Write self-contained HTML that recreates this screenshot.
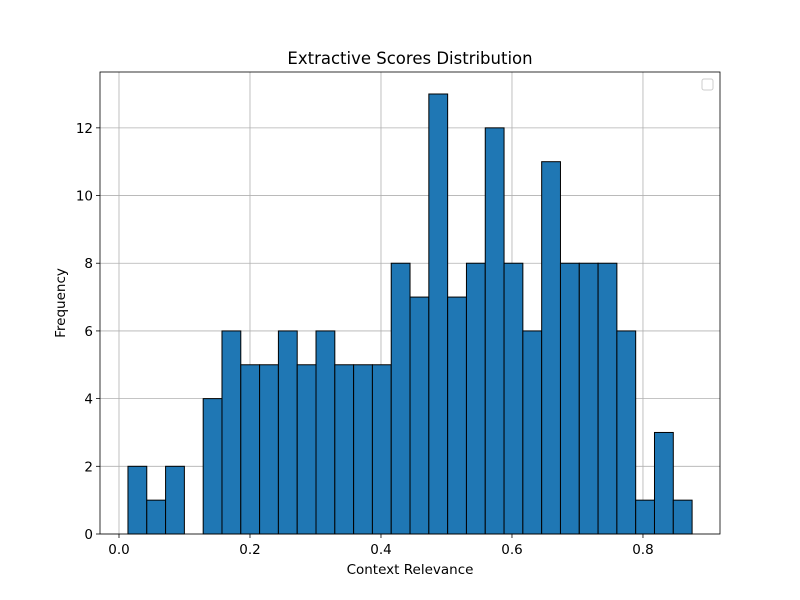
<!DOCTYPE html>
<html><head><meta charset="utf-8"><style>body{margin:0;background:#fff}svg{display:block;font-family:"DejaVu Sans","Liberation Sans",sans-serif}</style></head>
<body>
<svg id="chart" width="800" height="600" xmlns="http://www.w3.org/2000/svg"></svg>
<script>
const binStart = 0.0137;
const binEnd = 0.875;
const counts = [2,1,2,0,4,6,5,5,6,5,6,5,5,5,8,7,13,7,8,12,8,6,11,8,8,8,6,1,3,1];
const xTicks = [0.0,0.2,0.4,0.6,0.8];
const xTickLabels = ["0.0","0.2","0.4","0.6","0.8"];
const yTicks = [0,2,4,6,8,10,12];
const yTickLabels = ["0","2","4","6","8","10","12"];

const L=100,R=720,T=72,B=534;
const xmin=-0.029,xmax=0.9176,ymax=13.65;
const X=v=>L+(v-xmin)/(xmax-xmin)*(R-L);
const Y=v=>B-v/ymax*(B-T);
const svg=document.getElementById('chart');
const NS='http://www.w3.org/2000/svg';
function mk(tag,attrs,parent){const e=document.createElementNS(NS,tag);for(const k in attrs)e.setAttribute(k,attrs[k]);(parent||svg).appendChild(e);return e;}

const grid=mk('g',{});


xTicks.forEach(t=>mk('line',{x1:X(t),x2:X(t),y1:T,y2:B,stroke:'#b0b0b0','stroke-width':0.8},grid));
yTicks.forEach(t=>mk('line',{x1:L,x2:R,y1:Y(t),y2:Y(t),stroke:'#b0b0b0','stroke-width':0.8},grid));

const bars=mk('g',{});


const w=(binEnd-binStart)/counts.length;
counts.forEach((c,i)=>{
  if(c<=0)return;
  const x0=X(binStart+i*w),x1=X(binStart+(i+1)*w);
  const r=mk('rect',{x:x0,y:Y(c),width:x1-x0,height:Y(0)-Y(c),fill:'#1f77b4',stroke:'#000','stroke-width':1},bars);
  
  
});

const frame=mk('rect',{x:L,y:T,width:R-L,height:B-T,fill:'none',stroke:'#000','stroke-width':0.8});



xTicks.forEach((t,i)=>{
  mk('line',{x1:X(t),x2:X(t),y1:B,y2:B+4,stroke:'#000','stroke-width':0.8});
  const tx=mk('text',{x:X(t),y:B+20,'text-anchor':'middle','font-size':13.5});
  tx.textContent=xTickLabels[i];
  
  
});
yTicks.forEach((t,i)=>{
  mk('line',{x1:L-4,x2:L,y1:Y(t),y2:Y(t),stroke:'#000','stroke-width':0.8});
  const tx=mk('text',{x:L-7,y:Y(t)+5,'text-anchor':'end','font-size':13.5});
  tx.textContent=yTickLabels[i];
  
  
});

const title=mk('text',{x:(L+R)/2,y:64,'text-anchor':'middle','font-size':16.5});
title.textContent='Extractive Scores Distribution';


const xl=mk('text',{x:(L+R)/2,y:574,'text-anchor':'middle','font-size':13.5});
xl.textContent='Context Relevance';


const yl=mk('text',{x:65,y:(T+B)/2,'text-anchor':'middle','font-size':13.5,transform:'rotate(-90 65 '+((T+B)/2)+')'});
yl.textContent='Frequency';



const leg=mk('rect',{x:702,y:79,width:11,height:11,rx:2,fill:'#fff',stroke:'#ccc','stroke-width':1});


</script>
</body></html>
